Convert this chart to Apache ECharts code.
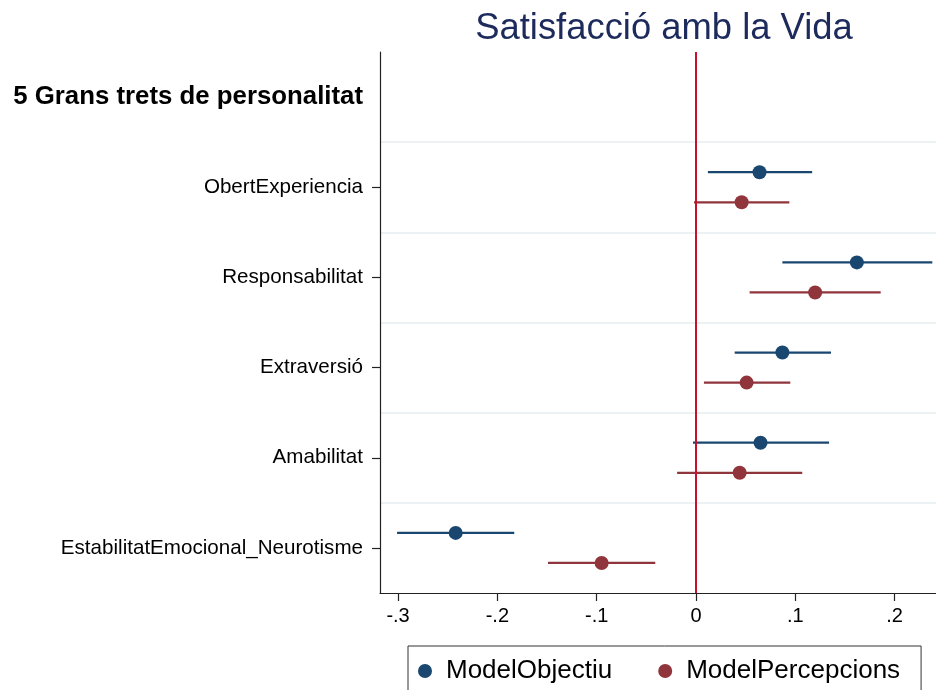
<!DOCTYPE html>
<html>
<head>
<meta charset="utf-8">
<script src="https://cdn.jsdelivr.net/npm/echarts@6/dist/echarts.min.js"></script>
<style>
  html, body { margin: 0; padding: 0; background: #fff; }
  #chart { width: 936px; height: 690px; }
</style>
</head>
<body>
<div id="chart"></div>
<script>
// data
var header = '5 Grans trets de personalitat';
var traits = ['ObertExperiencia', 'Responsabilitat', 'Extraversió', 'Amabilitat', 'EstabilitatEmocional_Neurotisme'];
var objEst = [0.064, 0.162, 0.087, 0.065, -0.242];
var objLo = [0.012, 0.087, 0.039, -0.003, -0.301];
var objHi = [0.117, 0.238, 0.136, 0.134, -0.183];
var perEst = [0.046, 0.120, 0.051, 0.044, -0.095];
var perLo = [-0.002, 0.054, 0.008, -0.019, -0.149];
var perHi = [0.094, 0.186, 0.095, 0.107, -0.041];
var xTicks = [-0.3, -0.2, -0.1, 0, 0.1, 0.2];

var NAVY = '#1a476f', MAROON = '#90353b';
var FONT = 'Liberation Sans';

// rows: header band 0, traits in bands 1..5; two models offset up / down
function rows(est, lo, hi, off) {
  return traits.map(function(t, i) {
    return [est[i], i + 1.5 + off, lo[i], hi[i]];
  });
}
var objRows = rows(objEst, objLo, objHi, -1 / 6);
var perRows = rows(perEst, perLo, perHi, 1 / 6);

function ciSeries(name, color, data) {
  return {
    name: name,
    type: 'custom',
    data: data,
    z: 2,
    silent: true,
    itemStyle: { color: color },
    renderItem: function(params, api) {
      var y = api.value(1);
      var a = api.coord([api.value(2), y]);
      var b = api.coord([api.value(3), y]);
      return {
        type: 'line',
        shape: { x1: a[0], y1: a[1], x2: b[0], y2: b[1] },
        style: { stroke: color, lineWidth: 2.2 }
      };
    }
  };
}

function fmtTick(v) {
  if (v === 0) return '0';
  var s = String(Math.round(v * 10) / 10);
  return s.replace('0.', '.');
}

var chart = echarts.init(document.getElementById('chart'), null, { renderer: 'canvas' });
chart.setOption({
  animation: false,
  textStyle: { fontFamily: FONT },
  title: {
    text: 'Satisfacció amb la Vida',
    left: 659,
    textAlign: 'center',
    top: 6,
    textStyle: { fontFamily: FONT, fontSize: 36.4, fontWeight: 'normal', color: '#1c2a5c' }
  },
  legend: {
    left: 408,
    top: 646,
    padding: [12, 21, 40, 10],
    borderColor: '#333',
    borderWidth: 1,
    itemWidth: 14,
    itemHeight: 14,
    itemGap: 46,
    icon: 'circle',
    data: [
      { name: 'ModelObjectiu', itemStyle: { color: NAVY } },
      { name: 'ModelPercepcions', itemStyle: { color: MAROON } }
    ],
    textStyle: { fontFamily: FONT, fontSize: 26, color: '#000', padding: [0, 0, 0, 9] }
  },
  grid: { left: 380, top: 52, right: 0, bottom: 97, containLabel: false },
  xAxis: {
    type: 'value',
    z: 3,
    min: -0.3182,
    max: 0.2417,
    axisLine: { show: true, onZero: false, lineStyle: { color: '#222', width: 1.2 } },
    axisTick: { show: true, length: 8, customValues: xTicks, lineStyle: { color: '#222', width: 1.2 } },
    axisLabel: { customValues: xTicks, formatter: fmtTick, fontSize: 20, color: '#000', margin: 13, fontFamily: FONT },
    splitLine: { show: false }
  },
  yAxis: [
    {
      type: 'value',
      z: 3,
      inverse: true,
      min: 0,
      max: 6,
      interval: 1,
      axisLine: { show: true, onZero: false, lineStyle: { color: '#222', width: 1.2 } },
      axisTick: { show: true, length: 8, customValues: [1.5, 2.5, 3.5, 4.5, 5.5], lineStyle: { color: '#222', width: 1.2 } },
      axisLabel: {
        customValues: [0.5, 1.5, 2.5, 3.5, 4.5, 5.5],
        margin: 17,
        fontSize: 20.6,
        color: '#000',
        fontFamily: FONT,
        formatter: function(v) {
          var i = Math.floor(v);
          return i === 0 ? '{h|' + header + '}' : traits[i - 1];
        },
        rich: { h: { fontSize: 25.8, fontWeight: 'bold', color: '#000', fontFamily: FONT } }
      },
      splitLine: { show: false }
    },
    {
      // band separators only
      type: 'value',
      z: 0,
      position: 'left',
      inverse: true,
      min: 0,
      max: 6,
      interval: 1,
      axisLine: { show: false },
      axisTick: { show: false },
      axisLabel: { show: false },
      splitLine: { show: true, showMinLine: false, showMaxLine: false, lineStyle: { color: '#e6edf1', width: 1.5 } }
    }
  ],
  series: [
    ciSeries('ModelObjectiu', NAVY, objRows),
    ciSeries('ModelPercepcions', MAROON, perRows),
    {
      name: 'ModelObjectiu',
      type: 'scatter',
      data: objRows,
      symbolSize: 14,
      z: 4,
      itemStyle: { color: NAVY, opacity: 1 }
    },
    {
      name: 'ModelPercepcions',
      type: 'scatter',
      data: perRows,
      symbolSize: 14,
      z: 4,
      itemStyle: { color: MAROON, opacity: 1 }
    },
    {
      type: 'scatter',
      data: [],
      z: 5,
      markLine: {
        silent: true,
        symbol: ['none', 'none'],
        label: { show: false },
        lineStyle: { color: '#c8102e', width: 2, type: 'solid' },
        data: [{ xAxis: 0 }]
      }
    }
  ]
});
</script>
</body>
</html>
